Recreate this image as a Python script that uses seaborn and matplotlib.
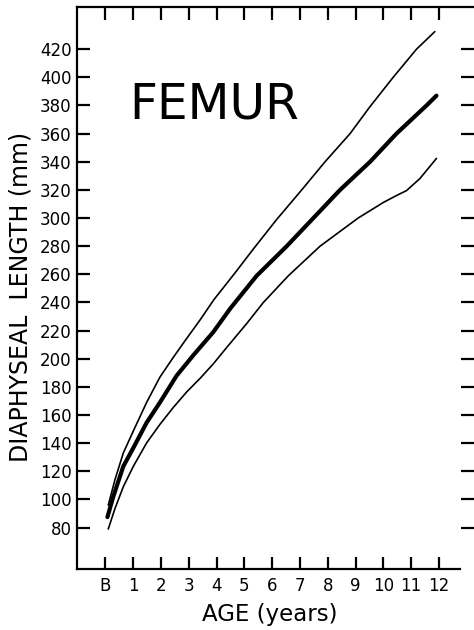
import matplotlib
matplotlib.use("Agg")
import matplotlib.pyplot as plt
import seaborn as sns

# ---- data ----
tick_positions = list(range(13))
tick_labels = ["B", "1", "2", "3", "4", "5", "6", "7", "8", "9", "10", "11", "12"]
y_ticks = list(range(80, 421, 20))

upper_age = [0.1, 0.34, 0.64, 1.0, 1.48, 1.96, 2.44, 2.92, 3.4, 3.9, 4.66, 5.32,
             6.16, 7.06, 7.9, 8.8, 9.51, 10.35, 11.19, 11.85]
upper_len = [96, 114, 133, 148.6, 169, 187, 201, 214.4, 227.5, 242, 261, 278,
             299, 320, 340, 360, 379, 400, 420, 432.5]

mean_age = [0.07, 0.28, 0.64, 1.0, 1.48, 1.96, 2.56, 3.16, 3.88, 4.5, 5.44, 6.52,
            7.48, 8.44, 9.52, 10.47, 11.55, 11.91]
mean_len = [87.5, 102, 123.5, 136.6, 154.6, 169, 188, 202.5, 219, 236, 259, 280,
            300, 320, 340, 360, 380, 387]

lower_age = [0.1, 0.34, 0.64, 1.0, 1.48, 1.96, 2.44, 2.92, 3.4, 3.88, 4.36, 5.08,
             5.68, 6.58, 7.72, 9.09, 9.99, 10.47, 10.83, 11.31, 11.91]
lower_len = [79, 93.5, 109, 123.5, 140.2, 153.4, 165.4, 176.4, 186, 196.4, 208, 225,
             240, 259, 280, 300, 311, 316, 319.5, 328, 342.4]

sns.set_style("white")
plt.rcParams["font.family"] = ["DejaVu Sans"]

fig = plt.figure(figsize=(4.74, 6.30), dpi=100)
ax = fig.add_axes([77 / 474, 1 - 569 / 630, (474 - 77) / 474, (569 - 7) / 630])

line_kw = dict(color="black", sort=False, solid_joinstyle="round", solid_capstyle="round")
sns.lineplot(x=upper_age, y=upper_len, ax=ax, linewidth=1.2, **line_kw)
sns.lineplot(x=mean_age, y=mean_len, ax=ax, linewidth=3.0, **line_kw)
sns.lineplot(x=lower_age, y=lower_len, ax=ax, linewidth=1.2, **line_kw)

ax.set_xlim(-1.025, 13.26)
ax.set_ylim(50.6, 450)

ax.set_xticks(tick_positions)
ax.set_xticklabels(tick_labels)
ax.set_yticks(y_ticks)
ax.set_yticklabels([str(v) for v in y_ticks])

ax.tick_params(axis="x", direction="in", length=9, width=1.6, bottom=True, top=True,
               color="black", labelcolor="black", labelsize=12, pad=6)
ax.tick_params(axis="y", direction="in", length=9.5, width=1.6, left=True, right=True,
               color="black", labelcolor="black", labelsize=12, pad=4)

for side in ["left", "top", "bottom"]:
    ax.spines[side].set_visible(True)
    ax.spines[side].set_color("black")
    ax.spines[side].set_linewidth(1.6)
ax.spines["right"].set_visible(False)
ax.spines["bottom"].set_bounds(-1.025, 12.76)

ax.set_xlabel("AGE (years)", fontsize=16.5, color="black")
ax.xaxis.set_label_coords(0.485, -0.06)
ax.set_ylabel("DIAPHYSEAL  LENGTH (mm)", fontsize=17, color="black")
ax.yaxis.set_label_coords(-0.113, 0.484)

ax.text(3.92, 371, "FEMUR", fontsize=35, ha="center", va="baseline", color="black")

fig.savefig("out.png", dpi=100)
